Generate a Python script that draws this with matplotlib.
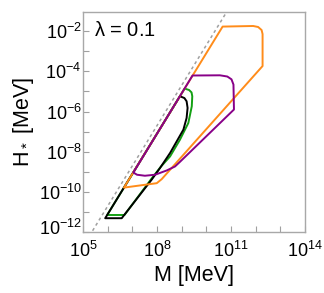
import numpy as np
import matplotlib
matplotlib.use("Agg")
import matplotlib.pyplot as plt
from matplotlib.patches import Polygon
from matplotlib.transforms import ScaledTranslation

plt.rcParams['font.family'] = ['Liberation Sans', 'DejaVu Sans']
plt.rcParams['mathtext.fontset'] = 'custom'
plt.rcParams['mathtext.rm'] = 'Liberation Sans'
plt.rcParams['mathtext.it'] = 'Liberation Sans:italic'
plt.rcParams['mathtext.default'] = 'regular'

# contours, log10(M / MeV) and log10(H_* / MeV)
orange_logM = [6.66, 10.66, 11.90, 12.10, 12.24, 12.28, 12.28, 8.19, 7.99]
orange_logH = [-9.78, -1.78, -1.75, -1.80, -1.95, -2.15, -3.74, -9.36, -9.56]

purple_logM = [7.04, 9.44, 10.55, 10.85, 11.02, 11.10, 11.12, 8.93, 8.73, 8.39, 7.92, 7.51, 7.19]
purple_logH = [-9.03, -4.21, -4.20, -4.26, -4.40, -4.66, -5.90, -8.50, -8.73, -8.93, -9.14, -9.19, -9.14]

green_logM = [5.98, 9.12, 9.30, 9.40, 9.43, 9.41, 9.27, 8.93, 8.53, 8.15, 7.80, 6.68]
green_logH = [-11.14, -4.86, -4.93, -5.05, -5.24, -5.74, -6.57, -7.40, -8.23, -8.75, -9.30, -11.14]

black_logM = [5.90, 8.93, 9.11, 9.20, 9.24, 9.20, 9.07, 8.80, 8.53, 8.12, 7.78, 6.57]
black_logH = [-11.30, -5.24, -5.33, -5.49, -5.82, -6.32, -6.90, -7.48, -8.06, -8.81, -9.39, -11.30]

# gray dashed bound
dashed_logM = [5.0, 11.5]
dashed_logH = [-12.7, 0.3]

xtick_exp = [5, 6, 7, 8, 9, 10, 11, 12, 13, 14]
xlabel_exp = [5, 8, 11, 14]
ytick_exp = [-12, -11, -10, -9, -8, -7, -6, -5, -4, -3, -2]
ylabel_exp = [-12, -10, -8, -6, -4, -2]

fig = plt.figure(figsize=(3.24, 2.93), dpi=100)
ax = fig.add_axes([83/324, 1 - 232.3/293, 222/324, 220.6/293])
ax.set_xscale('log')
ax.set_yscale('log')

ax.plot(10.0**np.array(dashed_logM), 10.0**np.array(dashed_logH),
        color='#a0a0a0', lw=1.1, ls=(0, (2, 2)), zorder=1)

contours = [(green_logM, green_logH, '#13a013', 2),
            (black_logM, black_logH, 'black', 3),
            (orange_logM, orange_logH, '#ff8c1a', 4),
            (purple_logM, purple_logH, '#880088', 5)]
for lm, lh, c, z in contours:
    pts = np.column_stack([10.0**np.array(lm), 10.0**np.array(lh)])
    ax.add_patch(Polygon(pts, closed=True, fill=False, edgecolor=c,
                         lw=1.4, joinstyle='round', zorder=z))

ax.set_xlim(1e5, 1e14)
ax.set_ylim(1e-12, 10**-1.04)

ax.set_xticks([10.0**e for e in xtick_exp])
ax.set_xticklabels([r'$10^{%d}$' % e if e in xlabel_exp else '' for e in xtick_exp])
ax.set_yticks([10.0**e for e in ytick_exp])
ax.set_yticklabels([r'$10^{%d}$' % e if e in ylabel_exp else '' for e in ytick_exp])
ax.minorticks_off()
ax.tick_params(direction='in', length=4, width=0.8, color='#a0a0a0',
               labelsize=13)
ax.tick_params(axis='x', pad=6)
ax.tick_params(axis='y', pad=1)
# lift the lowest y label a little, as in the original
lab = ax.get_yticklabels()[0]
lab.set_transform(lab.get_transform() + ScaledTranslation(0, 4/72, fig.dpi_scale_trans))
for s in ax.spines.values():
    s.set_color('#a8a8a8')
    s.set_linewidth(1.0)

ax.set_xlabel('M [MeV]', fontsize=15.5, labelpad=3)
ax.set_ylabel(r'H$_*$ [MeV]', fontsize=15.5, labelpad=2)
ax.text(0.05, 0.915, r'$\lambda$ = 0.1', transform=ax.transAxes,
        fontsize=14.5, va='center', ha='left')

fig.savefig('out.png', dpi=100)
